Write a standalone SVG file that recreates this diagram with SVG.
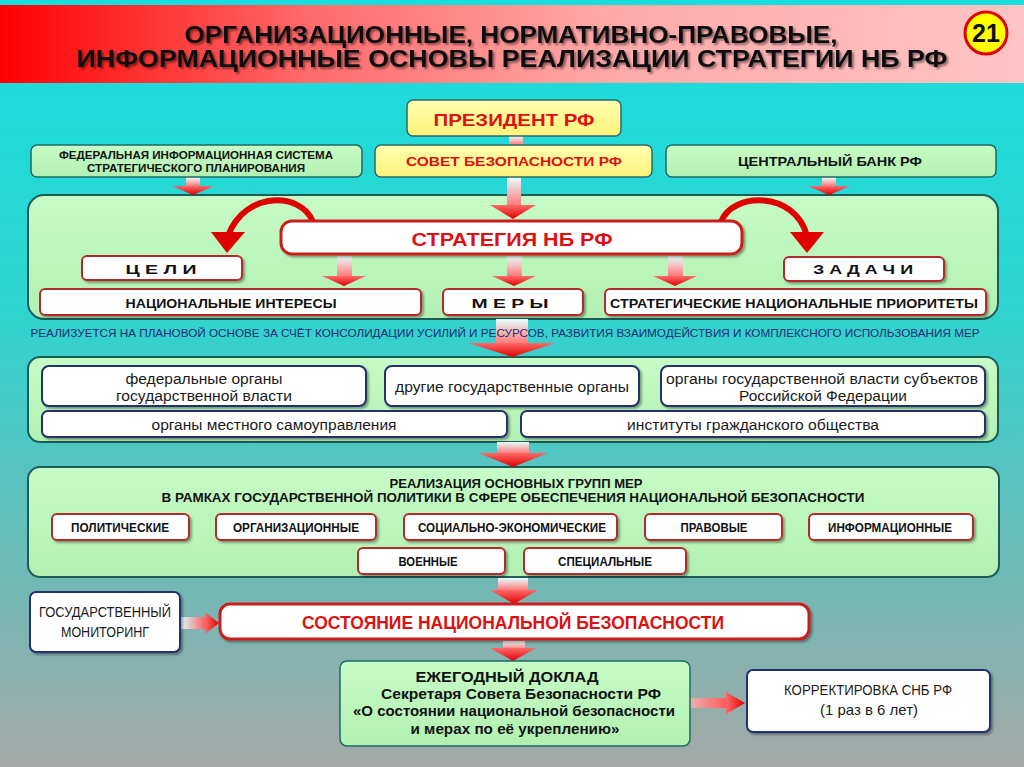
<svg xmlns="http://www.w3.org/2000/svg" width="1024" height="767" viewBox="0 0 1024 767">
<defs>
<linearGradient id="bg" x1="0" y1="0" x2="0" y2="1">
<stop offset="0" stop-color="#17dede"/><stop offset="0.4" stop-color="#2ed4d0"/><stop offset="0.75" stop-color="#6fb9b5"/><stop offset="1" stop-color="#a4a9a7"/>
</linearGradient>
<linearGradient id="banner" x1="0" y1="0" x2="1" y2="0">
<stop offset="0" stop-color="#ff0000"/><stop offset="0.3" stop-color="#ff6a6a"/><stop offset="0.6" stop-color="#ffaaaa"/><stop offset="1" stop-color="#ffc4c4"/>
</linearGradient>
<linearGradient id="green" x1="0" y1="0" x2="0" y2="1">
<stop offset="0" stop-color="#c6fcc6"/><stop offset="1" stop-color="#b2f0b2"/>
</linearGradient>
<linearGradient id="yellow" x1="0" y1="0" x2="0" y2="1">
<stop offset="0" stop-color="#ffffb0"/><stop offset="1" stop-color="#fff37a"/>
</linearGradient>
<linearGradient id="stemV" x1="0" y1="0" x2="0" y2="1">
<stop offset="0" stop-color="#e6ffff"/><stop offset="1" stop-color="#ff7a7a"/>
</linearGradient>
<linearGradient id="stemH" x1="0" y1="0" x2="1" y2="0">
<stop offset="0" stop-color="#d8ffff"/><stop offset="1" stop-color="#ff5a5a"/>
</linearGradient>
<linearGradient id="headV" x1="0" y1="0" x2="0" y2="1">
<stop offset="0" stop-color="#ff6a6a"/><stop offset="1" stop-color="#e00000"/>
</linearGradient>
<linearGradient id="headH" x1="0" y1="0" x2="1" y2="0">
<stop offset="0" stop-color="#ff6a6a"/><stop offset="1" stop-color="#e00000"/>
</linearGradient>
<filter id="sh" x="-10%" y="-30%" width="120%" height="170%">
<feDropShadow dx="2" dy="2" stdDeviation="1.2" flood-color="#000" flood-opacity="0.35"/>
</filter>
<filter id="tsh" x="-5%" y="-20%" width="110%" height="150%">
<feDropShadow dx="2" dy="2" stdDeviation="1.2" flood-color="#000" flood-opacity="0.45"/>
</filter>
<style>
.cont{fill:url(#green);stroke:#1d5c58;stroke-width:2}
.gbox{fill:url(#green);stroke:#1d6a66;stroke-width:1.5}
.ybox{fill:url(#yellow);stroke:#2a6a66;stroke-width:1.5}
.rbox{fill:#fff;stroke:#b32a2a;stroke-width:2;filter:url(#sh)}
.bbox{fill:#fff;stroke:#22306e;stroke-width:2;filter:url(#sh)}
.big{fill:#fff;stroke:#cc1f1f;stroke-width:3;filter:url(#sh)}
.b{font-family:"Liberation Sans",Arial,sans-serif;font-weight:bold;fill:#111}
.n{font-family:"Liberation Sans Narrow","Liberation Sans",Arial,sans-serif;fill:#1a1a1a}
.nb{font-family:"Liberation Sans Narrow","Liberation Sans",Arial,sans-serif;font-weight:bold;fill:#111}
.red{fill:#dd1111}
.stem{fill:url(#stemV)}
.stemh{fill:url(#stemH)}
.head{fill:url(#headV)}
.headh{fill:url(#headH)}
.curve{fill:none;stroke:#e00000;stroke-width:6}
</style>
</defs>

<rect x="0" y="0" width="1024" height="767" fill="url(#bg)"/>

<g id="title">
<rect x="0" y="5" width="1024" height="78" fill="url(#banner)"/>
<g filter="url(#tsh)">
<text class="nb" x="511" y="43" font-size="23" text-anchor="middle" fill="#1e1e1e" textLength="653" lengthAdjust="spacingAndGlyphs">ОРГАНИЗАЦИОННЫЕ,  НОРМАТИВНО-ПРАВОВЫЕ,</text>
<text class="nb" x="512" y="67" font-size="23" text-anchor="middle" fill="#1e1e1e" textLength="871" lengthAdjust="spacingAndGlyphs">ИНФОРМАЦИОННЫЕ  ОСНОВЫ  РЕАЛИЗАЦИИ  СТРАТЕГИИ  НБ  РФ</text>
</g>
<circle cx="986" cy="33" r="21" fill="#ffff00" stroke="#e00000" stroke-width="3"/>
<text class="nb" x="986" y="42" font-size="25" text-anchor="middle" fill="#dd0000">21</text>
</g>

<g id="strategy-block">
<rect class="cont" x="28" y="195" width="970" height="124" rx="16"/>
</g>
<g id="actors-block">
<rect class="cont" x="28" y="357" width="970" height="85" rx="12"/>
</g>
<g id="groups-block">
<rect class="cont" x="28" y="467" width="971" height="110" rx="12"/>
<text class="nb" x="516" y="488" font-size="12.5" text-anchor="middle" textLength="253" lengthAdjust="spacingAndGlyphs">РЕАЛИЗАЦИЯ ОСНОВНЫХ ГРУПП МЕР</text>
<text class="nb" x="513" y="502" font-size="12.5" text-anchor="middle" textLength="703" lengthAdjust="spacingAndGlyphs">В  РАМКАХ  ГОСУДАРСТВЕННОЙ  ПОЛИТИКИ В  СФЕРЕ  ОБЕСПЕЧЕНИЯ  НАЦИОНАЛЬНОЙ  БЕЗОПАСНОСТИ</text>
</g>

<g id="connectors">
<rect class="stem" x="509" y="136" width="14" height="9"/>
<rect class="stem" x="507" y="177" width="14" height="28"/>
<polygon class="head" points="490,205 536,205 513,219"/>
<rect class="stem" x="186" y="177" width="14" height="9"/>
<polygon class="head" points="172,186 214,186 193,195"/>
<rect class="stem" x="822" y="177" width="14" height="9"/>
<polygon class="head" points="808,186 850,186 829,195"/>
<path class="curve" d="M313,222 C302,192 245,190 228,236"/>
<polygon fill="#e00000" points="211,232 245,232 227,253"/>
<path class="curve" d="M721,222 C732,192 795,190 807,236"/>
<polygon fill="#e00000" points="790,232 824,232 807,253"/>
<rect class="stem" x="337" y="256" width="15" height="20"/>
<polygon class="head" points="322,276 366,276 344,286"/>
<rect class="stem" x="507" y="256" width="15" height="20"/>
<polygon class="head" points="492,276 536,276 514,286"/>
<rect class="stem" x="668" y="256" width="15" height="20"/>
<polygon class="head" points="653,276 697,276 675,286"/>
<rect class="stem" x="496" y="319" width="32" height="24"/>
<polygon class="head" points="468,343 556,343 512,357"/>
<rect class="stem" x="497" y="442" width="32" height="11"/>
<polygon class="head" points="478,453 548,453 513,467"/>
<rect class="stem" x="498" y="578" width="30" height="12"/>
<polygon class="head" points="490,590 538,590 514,604"/>
<rect class="stem" x="503" y="641" width="22" height="8"/>
<polygon class="head" points="490,648 536,648 513,661"/>
<rect class="stemh" x="181" y="617" width="25" height="12"/>
<polygon class="headh" points="205,612 205,634 219,623"/>
<rect class="stemh" x="655" y="698" width="72" height="10"/>
<polygon class="headh" points="726,692 726,714 745,703"/>
</g>

<text x="505" y="337" font-family="'Liberation Sans',Arial,sans-serif" font-size="11" fill="#1c2c72" text-anchor="middle" textLength="949" lengthAdjust="spacingAndGlyphs">РЕАЛИЗУЕТСЯ  НА  ПЛАНОВОЙ ОСНОВЕ  ЗА  СЧЁТ КОНСОЛИДАЦИИ УСИЛИЙ И РЕСУРСОВ,  РАЗВИТИЯ ВЗАИМОДЕЙСТВИЯ  И  КОМПЛЕКСНОГО  ИСПОЛЬЗОВАНИЯ  МЕР</text>

<g id="president">
<rect class="ybox" x="407" y="100" width="214" height="36" rx="6"/>
<text class="b red" x="514" y="126" font-size="17" text-anchor="middle" textLength="161" lengthAdjust="spacingAndGlyphs">ПРЕЗИДЕНТ РФ</text>
</g>
<g id="fis">
<rect class="gbox" x="31" y="145" width="331" height="32" rx="6"/>
<text class="b" x="196" y="159" font-size="10.5" text-anchor="middle" textLength="274" lengthAdjust="spacingAndGlyphs">ФЕДЕРАЛЬНАЯ ИНФОРМАЦИОННАЯ СИСТЕМА</text>
<text class="b" x="196" y="172" font-size="10.5" text-anchor="middle" textLength="218" lengthAdjust="spacingAndGlyphs">СТРАТЕГИЧЕСКОГО ПЛАНИРОВАНИЯ</text>
</g>
<g id="sovet">
<rect class="ybox" x="375" y="145" width="277" height="32" rx="6"/>
<text class="b red" x="514" y="166" font-size="13.5" text-anchor="middle" textLength="216" lengthAdjust="spacingAndGlyphs">СОВЕТ БЕЗОПАСНОСТИ РФ</text>
</g>
<g id="cbank">
<rect class="gbox" x="666" y="145" width="330" height="32" rx="6"/>
<text class="b" x="830" y="166" font-size="12.5" text-anchor="middle" textLength="184" lengthAdjust="spacingAndGlyphs">ЦЕНТРАЛЬНЫЙ БАНК РФ</text>
</g>

<g id="strategy">
<rect class="big" x="281" y="221" width="461" height="33" rx="11"/>
<text class="b red" x="512" y="246" font-size="17.5" text-anchor="middle" textLength="201" lengthAdjust="spacingAndGlyphs">СТРАТЕГИЯ  НБ  РФ</text>
</g>
<g id="goals">
<rect class="rbox" x="82" y="256" width="160" height="24" rx="5"/>
<text class="b" x="161" y="274" font-size="12" text-anchor="middle" textLength="71" lengthAdjust="spacingAndGlyphs">Ц  Е  Л  И</text>
</g>
<g id="tasks">
<rect class="rbox" x="784" y="257" width="160" height="24" rx="5"/>
<text class="b" x="863" y="274" font-size="12" text-anchor="middle" textLength="100" lengthAdjust="spacingAndGlyphs">З  А  Д  А  Ч  И</text>
</g>
<g id="interests">
<rect class="rbox" x="40" y="289" width="381" height="26" rx="5"/>
<text class="b" x="231" y="308" font-size="12.5" text-anchor="middle" textLength="211" lengthAdjust="spacingAndGlyphs">НАЦИОНАЛЬНЫЕ ИНТЕРЕСЫ</text>
</g>
<g id="measures">
<rect class="rbox" x="443" y="289" width="140" height="26" rx="5"/>
<text class="b" x="510" y="308" font-size="12.5" text-anchor="middle" textLength="77" lengthAdjust="spacingAndGlyphs">М  Е  Р  Ы</text>
</g>
<g id="priorities">
<rect class="rbox" x="605" y="289" width="381" height="26" rx="5"/>
<text class="b" x="794" y="308" font-size="12.5" text-anchor="middle" textLength="368" lengthAdjust="spacingAndGlyphs">СТРАТЕГИЧЕСКИЕ НАЦИОНАЛЬНЫЕ ПРИОРИТЕТЫ</text>
</g>

<g id="federal">
<rect class="bbox" x="42" y="366" width="324" height="40" rx="7"/>
<text class="n" x="204" y="384" font-size="15.5" text-anchor="middle" textLength="157" lengthAdjust="spacingAndGlyphs">федеральные органы</text>
<text class="n" x="204" y="401" font-size="15.5" text-anchor="middle" textLength="176" lengthAdjust="spacingAndGlyphs">государственной власти</text>
</g>
<g id="other">
<rect class="bbox" x="385" y="366" width="254" height="40" rx="7"/>
<text class="n" x="512" y="392" font-size="15.5" text-anchor="middle" textLength="234" lengthAdjust="spacingAndGlyphs">другие государственные органы</text>
</g>
<g id="regional">
<rect class="bbox" x="661" y="366" width="324" height="40" rx="7"/>
<text class="n" x="822" y="384" font-size="15.5" text-anchor="middle" textLength="312" lengthAdjust="spacingAndGlyphs">органы государственной власти субъектов</text>
<text class="n" x="823" y="401" font-size="15.5" text-anchor="middle" textLength="168" lengthAdjust="spacingAndGlyphs">Российской Федерации</text>
</g>
<g id="local">
<rect class="bbox" x="42" y="411" width="465" height="26" rx="6"/>
<text class="n" x="274" y="430" font-size="15.5" text-anchor="middle" textLength="245" lengthAdjust="spacingAndGlyphs">органы местного самоуправления</text>
</g>
<g id="civil">
<rect class="bbox" x="521" y="411" width="464" height="26" rx="6"/>
<text class="n" x="753" y="430" font-size="15.5" text-anchor="middle" textLength="252" lengthAdjust="spacingAndGlyphs">институты гражданского общества</text>
</g>

<g id="political">
<rect class="rbox" x="52" y="514" width="137" height="26" rx="5"/>
<text class="nb" x="120" y="532" font-size="12.5" text-anchor="middle" textLength="98" lengthAdjust="spacingAndGlyphs">ПОЛИТИЧЕСКИЕ</text>
</g>
<g id="organizational">
<rect class="rbox" x="216" y="514" width="160" height="26" rx="5"/>
<text class="nb" x="296" y="532" font-size="12.5" text-anchor="middle" textLength="126" lengthAdjust="spacingAndGlyphs">ОРГАНИЗАЦИОННЫЕ</text>
</g>
<g id="socioeconomic">
<rect class="rbox" x="404" y="514" width="213" height="26" rx="5"/>
<text class="nb" x="512" y="532" font-size="12.5" text-anchor="middle" textLength="188" lengthAdjust="spacingAndGlyphs">СОЦИАЛЬНО-ЭКОНОМИЧЕСКИЕ</text>
</g>
<g id="legal">
<rect class="rbox" x="645" y="514" width="137" height="26" rx="5"/>
<text class="nb" x="714" y="532" font-size="12.5" text-anchor="middle" textLength="67" lengthAdjust="spacingAndGlyphs">ПРАВОВЫЕ</text>
</g>
<g id="informational">
<rect class="rbox" x="809" y="514" width="164" height="26" rx="5"/>
<text class="nb" x="890" y="532" font-size="12.5" text-anchor="middle" textLength="124" lengthAdjust="spacingAndGlyphs">ИНФОРМАЦИОННЫЕ</text>
</g>
<g id="military">
<rect class="rbox" x="358" y="548" width="147" height="26" rx="5"/>
<text class="nb" x="428" y="566" font-size="12.5" text-anchor="middle" textLength="59" lengthAdjust="spacingAndGlyphs">ВОЕННЫЕ</text>
</g>
<g id="special">
<rect class="rbox" x="524" y="548" width="162" height="26" rx="5"/>
<text class="nb" x="605" y="566" font-size="12.5" text-anchor="middle" textLength="94" lengthAdjust="spacingAndGlyphs">СПЕЦИАЛЬНЫЕ</text>
</g>

<g id="monitoring">
<rect class="bbox" x="30" y="592" width="150" height="60" rx="6"/>
<text class="n" x="105" y="617" font-size="15" text-anchor="middle" textLength="132" lengthAdjust="spacingAndGlyphs">ГОСУДАРСТВЕННЫЙ</text>
<text class="n" x="105" y="637" font-size="15" text-anchor="middle" textLength="88" lengthAdjust="spacingAndGlyphs">МОНИТОРИНГ</text>
</g>
<g id="state">
<rect class="big" x="220" y="604" width="589" height="35" rx="10"/>
<text class="nb red" x="513" y="629" font-size="19" text-anchor="middle" textLength="422" lengthAdjust="spacingAndGlyphs">СОСТОЯНИЕ  НАЦИОНАЛЬНОЙ БЕЗОПАСНОСТИ</text>
</g>
<g id="report">
<rect class="gbox" x="340" y="661" width="350" height="85" rx="7" stroke="#1d3a38" stroke-width="2"/>
<text class="nb" x="507" y="682" font-size="15" text-anchor="middle" textLength="183" lengthAdjust="spacingAndGlyphs">ЕЖЕГОДНЫЙ ДОКЛАД</text>
<text class="nb" x="521" y="699" font-size="15" text-anchor="middle" textLength="280" lengthAdjust="spacingAndGlyphs">Секретаря Совета Безопасности РФ</text>
<text class="nb" x="514" y="716" font-size="15" text-anchor="middle" textLength="322" lengthAdjust="spacingAndGlyphs">«О состоянии национальной безопасности</text>
<text class="nb" x="515" y="734" font-size="15" text-anchor="middle" textLength="209" lengthAdjust="spacingAndGlyphs">и мерах по её укреплению»</text>
</g>
<g id="correction">
<rect class="bbox" x="747" y="670" width="243" height="62" rx="6"/>
<text class="n" x="868" y="695" font-size="15" text-anchor="middle" textLength="168" lengthAdjust="spacingAndGlyphs">КОРРЕКТИРОВКА СНБ РФ</text>
<text class="n" x="869" y="715" font-size="15" text-anchor="middle" textLength="98" lengthAdjust="spacingAndGlyphs">(1 раз в 6 лет)</text>
</g>
</svg>
